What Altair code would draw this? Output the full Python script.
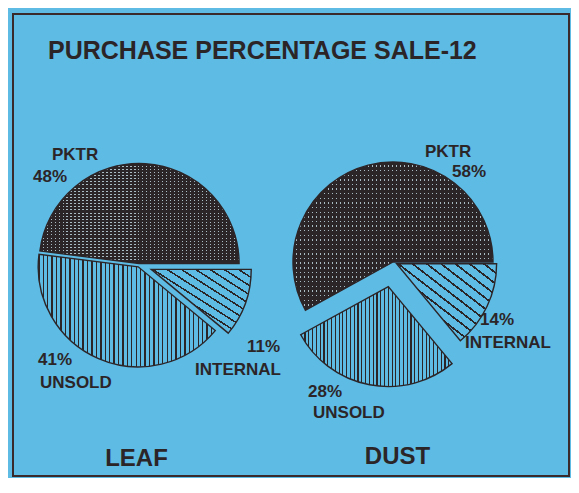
import math
import altair as alt
import pandas as pd

# ---------------- data ----------------
title_text = "PURCHASE PERCENTAGE SALE-12"
products = ["LEAF", "DUST"]
segments = ["PKTR", "INTERNAL", "UNSOLD"]
leaf_pct = [48, 11, 41]
dust_pct = [58, 14, 28]

# ---------------- layout / style ----------------
W, H = 563, 470
BG = "#5ebbe4"
INK = "#2c2528"
LIGHT = "#a9bcc4"
FONT = "Liberation Sans"
R = 100
pie_center = {"LEAF": (131, 257), "DUST": (385, 254)}
explode = {
    ("LEAF", "PKTR"): 1.5, ("LEAF", "INTERNAL"): 13, ("LEAF", "UNSOLD"): 2,
    ("DUST", "PKTR"): 0, ("DUST", "INTERNAL"): 4, ("DUST", "UNSOLD"): 25,
}
# (name line anchor, percentage line anchor): left x, baseline y
label_pos = {
    ("LEAF", "PKTR"): ((44, 152), (25, 174)),
    ("LEAF", "INTERNAL"): ((187, 367), (239, 344)),
    ("LEAF", "UNSOLD"): ((32, 380), (30, 357)),
    ("DUST", "PKTR"): ((417, 149), (444, 169)),
    ("DUST", "INTERNAL"): ((457, 340), (472, 317)),
    ("DUST", "UNSOLD"): ((305, 410), (300, 389)),
}
product_label_pos = {"LEAF": (128.5, 458), "DUST": (389.5, 456)}
title_pos = (40, 51)


def stripes(n, dark_frac, dark, light, x1, y1, x2, y2):
    stops = []
    for i in range(n):
        a = i / n
        b = (i + dark_frac) / n
        c = (i + 1) / n
        stops += [
            {"offset": round(a, 5), "color": dark},
            {"offset": round(b, 5), "color": dark},
            {"offset": round(b, 5), "color": light},
            {"offset": round(c, 5), "color": light},
        ]
    return {"gradient": "linear", "x1": x1, "y1": y1, "x2": x2, "y2": y2, "stops": stops}


CLEAR = "rgba(0,0,0,0)"
pk_h = stripes(32, 0.7, INK, CLEAR, 0, 0, 0, 1)
pk_v = stripes(50, 0.68, INK, CLEAR, 0, 0, 1, 0)
uns_v = stripes(40, 0.3, INK, BG, 0, 0, 1, 0)
int_d = stripes(14, 0.2, INK, BG, 0, 1, 1, 0)

# ---------------- table built from the data ----------------
rows = []
for p, vals in zip(products, [leaf_pct, dust_pct]):
    pk = vals[0]
    cum = 0
    for s, v in zip(segments, vals):
        a0 = cum - pk
        a1 = cum + v - pk
        cum += v
        mid = (a0 + a1) / 2
        ang = math.pi / 2 + mid / 100 * 2 * math.pi
        ex = explode[(p, s)]
        cx0, cy0 = pie_center[p]
        rows.append(dict(product=p, segment=s, pct=v, a0=a0, a1=a1,
                         cx=cx0 + ex * math.sin(ang), cy=cy0 - ex * math.cos(ang)))
df = pd.DataFrame(rows)

lab_rows = []
for p, vals in zip(products, [leaf_pct, dust_pct]):
    for s, v in zip(segments, vals):
        (nx, ny), (px, py) = label_pos[(p, s)]
        lab_rows.append(dict(text=s, x=nx, y=ny))
        lab_rows.append(dict(text=f"{v}%", x=px, y=py))
labels = pd.DataFrame(lab_rows)

prod_df = pd.DataFrame([dict(text=p, x=product_label_pos[p][0], y=product_label_pos[p][1]) for p in products])
title_df = pd.DataFrame([dict(text=title_text, x=title_pos[0], y=title_pos[1])])

theta_scale = alt.Scale(domain=[0, 100], range=[math.pi / 2, math.pi / 2 + 2 * math.pi])
enc = dict(
    theta=alt.Theta("a0:Q", scale=theta_scale),
    theta2="a1:Q",
    x=alt.X("cx:Q", scale=None),
    y=alt.Y("cy:Q", scale=None),
)
base = alt.Chart(df)


def seg_layer(seg, fill):
    return base.transform_filter(alt.datum.segment == seg).mark_arc(
        radius=R, fill=fill, strokeWidth=0).encode(**enc)


layers = [
    seg_layer("PKTR", LIGHT),
    seg_layer("PKTR", pk_h),
    seg_layer("PKTR", pk_v),
    seg_layer("UNSOLD", uns_v),
    seg_layer("INTERNAL", int_d),
    base.mark_arc(radius=R, fill=CLEAR, stroke=INK, strokeWidth=1.4).encode(**enc),
]

text_kw = dict(align="left", baseline="alphabetic", font=FONT, fontWeight="bold", color=INK)
label_layer = alt.Chart(labels).mark_text(fontSize=17, **text_kw).encode(
    x=alt.X("x:Q", scale=None), y=alt.Y("y:Q", scale=None), text="text:N")
prod_layer = alt.Chart(prod_df).mark_text(
    fontSize=24, align="center", baseline="alphabetic", font=FONT, fontWeight="bold", color=INK
).encode(x=alt.X("x:Q", scale=None), y=alt.Y("y:Q", scale=None), text="text:N")
title_layer = alt.Chart(title_df).mark_text(fontSize=25, **text_kw).encode(
    x=alt.X("x:Q", scale=None), y=alt.Y("y:Q", scale=None), text="text:N")

frame = alt.Chart(title_df).mark_rect(fill=CLEAR, stroke="#3a2a2c", strokeWidth=2).encode(
    x=alt.value(5), x2=alt.value(561), y=alt.value(6), y2=alt.value(468))

chart = alt.layer(*layers, label_layer, prod_layer, title_layer, frame).properties(
    width=W, height=H, autosize=alt.AutoSizeParams(type="none"), padding=0,
    background=BG,
).configure_view(strokeWidth=0)

chart.save("out.html", embed_options={"renderer": "svg", "actions": False})
